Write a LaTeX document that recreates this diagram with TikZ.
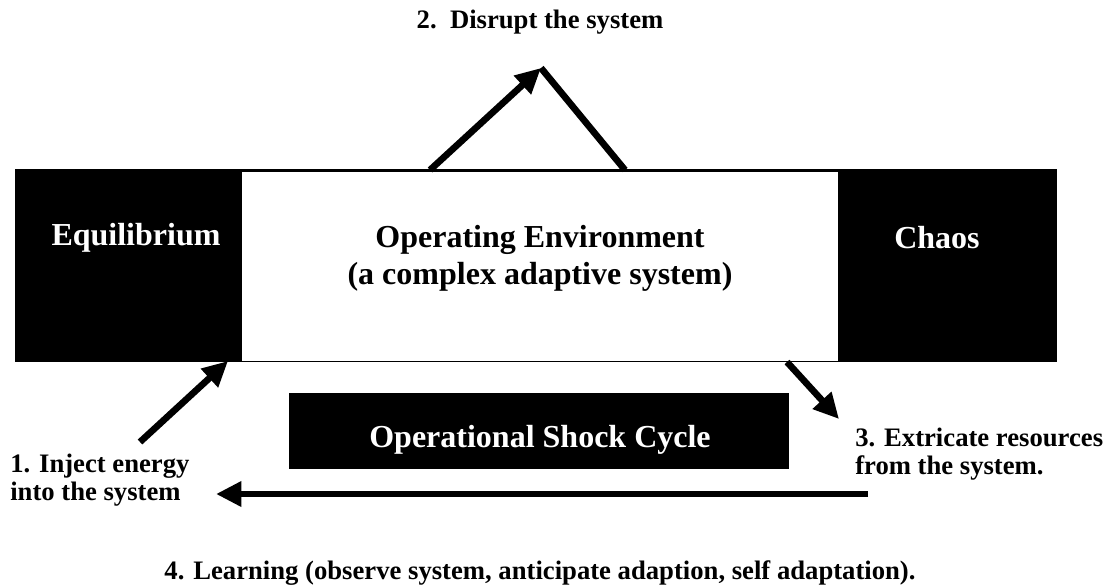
\documentclass[tikz,border=0pt]{standalone}
\usepackage{fontspec}
\setmainfont{Liberation Serif}
\usetikzlibrary{arrows.meta}
\begin{document}
\begin{tikzpicture}[x=0.75pt,y=-0.75pt,
  lbl/.style={font=\bfseries\fontsize{20}{21}\selectfont, inner sep=0pt},
  big/.style={font=\bfseries\fontsize{24}{27.6}\selectfont, inner sep=0pt, align=center},
  inv/.style={big, text=white},
  arr/.style={line width=5pt, -{Triangle[length=19pt,width=18pt]}},
  bar/.style={line width=5pt}
]
\useasboundingbox (0,0) rectangle (1113,586);

% black band with the white operating box on top
\fill[black] (15,169) rectangle (1057,362);
\draw[fill=white, line width=0.6pt] (241,171) rectangle (838,361);
\fill[black] (289,393) rectangle (789,469);

% texts
\node[inv] (eq) at (136,238) {Equilibrium};
\node[inv] (ch) at (937,238) {Chaos};
\node[big] (env) at (540,258) {Operating Environment\\(a complex adaptive system)};
\node[inv] (osc) at (540,440) {Operational Shock Cycle};
\node[lbl] (t2) at (540,22) {2.\ \ Disrupt the system};
\node[lbl, anchor=west, align=left] (t1) at (10,480) {1. Inject energy\\into the system};
\node[lbl, anchor=west, align=left] (t3) at (855,454) {3. Extricate resources\\from the system.};
\node[lbl, anchor=base] (t4) at (540,579) {4. Learning (observe system, anticipate adaption, self adaptation).};

% arrow end points
\coordinate (a1s) at (140,442);
\coordinate (a1e) at (228,361);
\coordinate (a2s) at (430,170);
\coordinate (a2e) at (541,68);
\coordinate (a2b) at (625,170);
\coordinate (a3s) at (787,362);
\coordinate (a3e) at (839,419);
\coordinate (a4s) at (868,494);
\coordinate (a4e) at (216,494);

\draw[arr] (a1s) -- (a1e);
\draw[arr] (a2s) -- (a2e);
\draw[bar] (a2e) -- (a2b);
\draw[arr] (a3s) -- (a3e);
\draw[arr] (a4s) -- (a4e);
\end{tikzpicture}
\end{document}
